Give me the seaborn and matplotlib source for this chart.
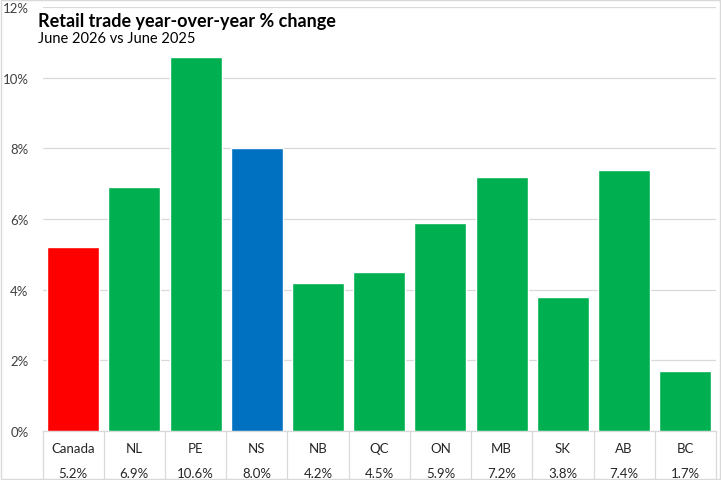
import matplotlib
matplotlib.use("Agg")
import matplotlib.pyplot as plt
import matplotlib.transforms as mtransforms
import seaborn as sns
import pandas as pd

# data
regions = ["Canada", "NL", "PE", "NS", "NB", "QC", "ON", "MB", "SK", "AB", "BC"]
changes = [5.2, 6.9, 10.6, 8.0, 4.2, 4.5, 5.9, 7.2, 3.8, 7.4, 1.7]
y_ticks = [0, 2, 4, 6, 8, 10, 12]

GREEN = "#00B050"
bar_colors = {r: GREEN for r in regions}
bar_colors["Canada"] = "#FF0000"
bar_colors["NS"] = "#0070C0"

df = pd.DataFrame({"region": regions, "change": changes})

sns.set_theme(style="white")
plt.rcParams["font.family"] = ["Lato", "DejaVu Sans"]

fig = plt.figure(figsize=(7.21, 4.81), dpi=100)
ax = fig.add_axes([0.059, 0.102, 0.934, 0.881])

sns.barplot(data=df, x="region", y="change", hue="region", palette=bar_colors,
            order=regions, width=0.85, saturation=1, legend=False, ax=ax, zorder=3)

ax.set_ylim(0, 12)
ax.set_xlim(-0.5, len(regions) - 0.5)
ax.set_yticks(y_ticks)
ax.set_yticklabels([f"{t}%" for t in y_ticks], fontsize=9.5, color="#404040")
ax.tick_params(axis="y", length=0, pad=10)
ax.set_xticks([])
ax.set_xlabel("")
ax.set_ylabel("")
ax.grid(axis="y", color="#D9D9D9", linewidth=0.9, zorder=0)
for s in ["top", "right", "left"]:
    ax.spines[s].set_visible(False)
ax.spines["bottom"].set_color("#D9D9D9")
ax.spines["bottom"].set_linewidth(0.9)

# table-style category labels under the axis
trans = mtransforms.blended_transform_factory(ax.transData, ax.transAxes)
for i, (r, v) in enumerate(zip(regions, changes)):
    ax.text(i, -0.04, r, transform=trans, ha="center", va="center",
            fontsize=9.5, color="#262626")
    ax.text(i, -0.1, f"{v:.1f}%", transform=trans, ha="center", va="center",
            fontsize=9.5, color="#262626")
for b in range(len(regions) + 1):
    ax.plot([b - 0.5, b - 0.5], [0, -0.12], transform=trans, color="#D9D9D9",
            linewidth=0.9, clip_on=False)

fig.text(0.053, 0.956, "Retail trade year-over-year % change", fontsize=13,
         fontweight="bold", color="black", ha="left", va="center")
fig.text(0.053, 0.918, "June 2026 vs June 2025", fontsize=10.5,
         color="black", ha="left", va="center")

# light outer frame
fig.patches.append(plt.Rectangle((0.002, 0.002), 0.996, 0.996, transform=fig.transFigure,
                                 fill=False, edgecolor="#D9D9D9", linewidth=1))

fig.savefig("out.png", dpi=100)
